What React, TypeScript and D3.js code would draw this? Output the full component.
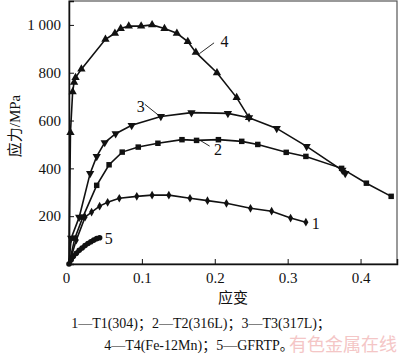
import React, { useRef, useEffect } from 'react';
import * as d3 from 'd3';

// 数据：应变 / 应力 (MPa)
const strain1 = [0, 0.01, 0.022, 0.031, 0.042, 0.053, 0.069, 0.093, 0.114, 0.137, 0.166, 0.19, 0.216, 0.249, 0.278, 0.304, 0.325];
const stress1 = [0, 100, 196, 217, 242, 258, 275, 283, 288, 288, 275, 265, 254, 233, 221, 192, 175];

const strain2 = [0, 0.008, 0.019, 0.038, 0.055, 0.073, 0.095, 0.122, 0.155, 0.175, 0.205, 0.237, 0.259, 0.298, 0.325, 0.374, 0.408, 0.442];
const stress2 = [0, 108, 196, 329, 415, 468, 489, 505, 520, 517, 520, 513, 500, 467, 450, 400, 338, 283];

const strain3 = [0, 0.003, 0.014, 0.029, 0.038, 0.049, 0.064, 0.086, 0.126, 0.168, 0.218, 0.247, 0.285, 0.326, 0.375, 0.379];
const stress3 = [0, 108, 196, 379, 450, 508, 545, 580, 617, 633, 630, 612, 567, 492, 392, 379];

const strain4 = [0, 0.002, 0.005, 0.007, 0.009, 0.017, 0.05, 0.063, 0.071, 0.082, 0.099, 0.114, 0.131, 0.148, 0.163, 0.174, 0.203, 0.23, 0.247];
const stress4 = [0, 550, 720, 760, 780, 815, 940, 965, 985, 995, 995, 1000, 985, 965, 930, 885, 800, 696, 612];

const strain5 = [0, 0.003, 0.006, 0.01, 0.014, 0.018, 0.022, 0.026, 0.03, 0.034, 0.038, 0.042];
const stress5 = [0, 18, 32, 45, 57, 67, 77, 86, 93, 100, 106, 110];

const yTicks = [0, 200, 400, 600, 800, 1000];
const xTicks = [0, 0.1, 0.2, 0.3, 0.4];

const legendLine1 = '1—T1(304)；2—T2(316L)；3—T3(317L)；';
const legendLine2 = '4—T4(Fe-12Mn)；5—GFRTP。';

const serif = '"Liberation Serif", "DejaVu Serif", serif';
const cjk = '"Noto Sans CJK SC", sans-serif';

const App = () => {
  const svgRef = useRef<SVGSVGElement>(null);

  useEffect(() => {
    if (!svgRef.current) return;
    const svg = d3.select(svgRef.current);
    svg.selectAll('*').remove();

    const x = d3.scaleLinear().domain([0, 0.45]).range([69, 397]);
    const y = d3.scaleLinear().domain([0, 1100]).range([264, 1]);

    // 外框
    svg.append('rect')
      .attr('x', x(0)).attr('y', y(1100))
      .attr('width', x(0.45) - x(0)).attr('height', y(0) - y(1100))
      .attr('fill', 'none').attr('stroke', '#555').attr('stroke-width', 1.2);

    // 坐标轴（刻度朝内）
    const yAxis = d3.axisLeft(y).tickValues(yTicks).tickSize(-5).tickPadding(8)
      .tickFormat(d => (+d === 1000 ? '1 000' : String(d)));
    const gy = svg.append('g').attr('transform', `translate(${x(0)},0)`).call(yAxis);
    gy.attr('font-family', null).attr('font-size', null);
    gy.select('.domain').attr('stroke', '#111').attr('stroke-width', 1.5);
    gy.selectAll('.tick line').attr('stroke', '#111');
    gy.selectAll('.tick text').style('font-family', serif).style('font-size', '15px').attr('fill', '#111');
    gy.selectAll('.tick').filter(d => +d === 0).select('text').remove();

    const xAxis = d3.axisBottom(x).tickValues(xTicks).tickSize(-5).tickPadding(8)
      .tickFormat(d => String(d));
    const gx = svg.append('g').attr('transform', `translate(0,${y(0)})`).call(xAxis);
    gx.attr('font-family', null).attr('font-size', null);
    gx.select('.domain').attr('stroke', '#111').attr('stroke-width', 1.5);
    gx.selectAll('.tick line').attr('stroke', '#111');
    gx.selectAll('.tick text').style('font-family', serif).style('font-size', '15px').attr('fill', '#111');
    gx.selectAll('.tick').filter(d => +d === 0).select('text').attr('dx', -3);

    const line = d3.line<[number, number]>().x(d => x(d[0])).y(d => y(d[1]));
    const zip = (a: number[], b: number[]) => a.map((v, i) => [v, b[i]] as [number, number]);

    const series = [
      { pts: zip(strain1, stress1), sym: d3.symbolDiamond, size: 22 },
      { pts: zip(strain2, stress2), sym: d3.symbolSquare, size: 30 },
      { pts: zip(strain3, stress3), sym: d3.symbolTriangle, size: 30, rot: 180 },
      { pts: zip(strain4, stress4), sym: d3.symbolTriangle, size: 30 },
    ];

    series.forEach(s => {
      svg.append('path').datum(s.pts).attr('d', line)
        .attr('fill', 'none').attr('stroke', '#111').attr('stroke-width', 1.6);
      svg.append('g').selectAll('path').data(s.pts.slice(1)).enter().append('path')
        .attr('d', d3.symbol().type(s.sym).size(s.size)())
        .attr('transform', d => `translate(${x(d[0])},${y(d[1])}) rotate(${s.rot || 0})`)
        .attr('fill', '#111');
    });

    // GFRTP 曲线
    const p5 = zip(strain5, stress5);
    svg.append('path').datum(p5).attr('d', line)
      .attr('fill', 'none').attr('stroke', '#111').attr('stroke-width', 4).attr('stroke-linecap', 'round');
    svg.append('g').selectAll('circle').data(p5).enter().append('circle')
      .attr('cx', d => x(d[0])).attr('cy', d => y(d[1])).attr('r', 2.8).attr('fill', '#111');

    // 曲线编号及引线
    const labels = [
      { t: '1', tx: 0.333, ty: 170, l: null },
      { t: '2', tx: 0.199, ty: 480, l: [0.18, 517, 0.193, 493] },
      { t: '3', tx: 0.093, ty: 660, l: [0.104, 668, 0.125, 617] },
      { t: '4', tx: 0.208, ty: 930, l: [0.179, 880, 0.199, 925] },
      { t: '5', tx: 0.049, ty: 105, l: null },
    ];
    labels.forEach(lb => {
      svg.append('text').attr('x', x(lb.tx)).attr('y', y(lb.ty)).attr('dy', '0.35em')
        .style('font-family', serif).style('font-size', '16px').attr('fill', '#111').text(lb.t);
      if (lb.l) {
        svg.append('line')
          .attr('x1', x(lb.l[0])).attr('y1', y(lb.l[1]))
          .attr('x2', x(lb.l[2])).attr('y2', y(lb.l[3]))
          .attr('stroke', '#111').attr('stroke-width', 0.9);
      }
    });

    // 轴标题
    svg.append('text').attr('transform', 'translate(20,126) rotate(-90)')
      .attr('text-anchor', 'middle').style('font-size', '15px').attr('fill', '#111')
      .selectAll('tspan').data([['应力', cjk], ['/MPa', serif]]).enter().append('tspan')
      .style('font-family', d => d[1]).text(d => d[0]);
    svg.append('text').attr('x', 233).attr('y', 303).attr('text-anchor', 'middle')
      .style('font-family', cjk).style('font-size', '15px').attr('fill', '#111').text('应变');

    // 图例说明
    svg.append('text').attr('x', 201).attr('y', 328).attr('text-anchor', 'middle')
      .style('font-family', `${serif}, ${cjk}`).style('font-size', '14px').attr('fill', '#111').text(legendLine1);
    svg.append('text').attr('x', 199).attr('y', 350).attr('text-anchor', 'middle')
      .style('font-family', `${serif}, ${cjk}`).style('font-size', '14px').attr('fill', '#111').text(legendLine2);

    // 水印
    svg.append('text').attr('x', 397).attr('y', 351).attr('text-anchor', 'end')
      .style('font-family', cjk).style('font-size', '18px').attr('fill', '#f4c6c6').text('有色金属在线');
  }, []);

  return (
    <svg ref={svgRef} width={400} height={355}
      style={{ position: 'absolute', left: 0, top: 0, background: '#fff' }} />
  );
};

export default App;
